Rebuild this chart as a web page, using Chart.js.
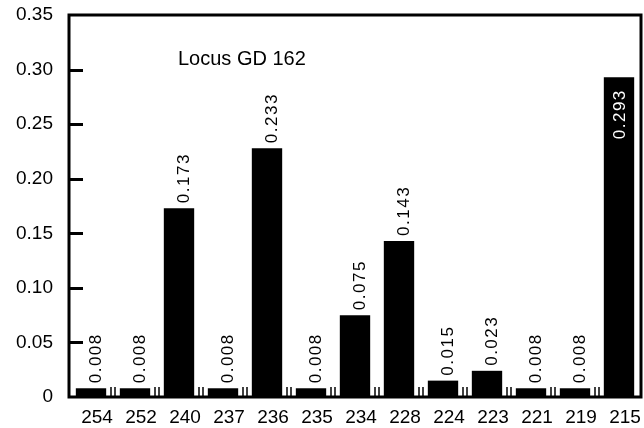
<!DOCTYPE html>
<html>
<head>
<meta charset="utf-8">
<script src="https://cdn.jsdelivr.net/npm/chart.js@4.4.0/dist/chart.umd.min.js"></script>
<style>
  html, body { margin: 0; padding: 0; background: #fff; }
  canvas { display: block; }
</style>
</head>
<body>
<canvas id="chart" width="644" height="428"></canvas>
<script>
// allele sizes (x categories) and their frequencies
const alleles = ['254', '252', '240', '237', '236', '235', '234', '228', '224', '223', '221', '219', '215'];
const freqs = [0.008, 0.008, 0.173, 0.008, 0.228, 0.008, 0.075, 0.143, 0.015, 0.024, 0.008, 0.008, 0.293];
const freqLabels = ['0.008', '0.008', '0.173', '0.008', '0.233', '0.008', '0.075', '0.143', '0.015', '0.023', '0.008', '0.008', '0.293'];
const yMin = 0;
const yMax = 0.35;
const yStep = 0.05;
const chartTitle = 'Locus GD 162';

const FONT = "'Liberation Sans', Arial, Helvetica, sans-serif";

// frame, inward ticks, rotated value labels and the inner title
const decorations = {
    id: 'decorations',
    afterDraw(chart) {
        const ctx = chart.ctx;
        const area = chart.chartArea;
        const x = chart.scales.x;
        const y = chart.scales.y;
        ctx.save();
        ctx.strokeStyle = '#000';

        // y ticks pointing into the plot
        ctx.lineWidth = 3;
        y.ticks.forEach(t => {
            if (t.value <= yMin || t.value >= yMax) return;
            const py = Math.round(y.getPixelForValue(t.value)) + 0.5;
            ctx.beginPath();
            ctx.moveTo(area.left, py);
            ctx.lineTo(area.left + 14, py);
            ctx.stroke();
        });

        // small double ticks between categories
        ctx.lineWidth = 1.5;
        for (let i = 0; i < alleles.length - 1; i++) {
            const bx = (x.getPixelForValue(i) + x.getPixelForValue(i + 1)) / 2;
            [-2, 2].forEach(d => {
                ctx.beginPath();
                ctx.moveTo(bx + d, area.bottom);
                ctx.lineTo(bx + d, area.bottom - 10);
                ctx.stroke();
            });
        }

        // frame
        ctx.lineWidth = 3;
        ctx.strokeRect(area.left, area.top, area.right - area.left, area.bottom - area.top);

        // value labels
        const meta = chart.getDatasetMeta(0);
        ctx.font = '17px ' + FONT;
        ctx.letterSpacing = '1.5px';
        const cap = 12;
        meta.data.forEach((bar, i) => {
            const text = freqLabels[i];
            const len = ctx.measureText(text).width;
            const inside = bar.y - area.top < len + 20;
            ctx.save();
            if (inside) {
                ctx.fillStyle = '#fff';
                ctx.translate(bar.x, bar.y + 12);
                ctx.rotate(-Math.PI / 2);
                ctx.textAlign = 'right';
                ctx.textBaseline = 'alphabetic';
                ctx.fillText(text, 0, cap / 2);
            } else {
                ctx.fillStyle = '#000';
                ctx.translate(bar.x + 4, bar.y - 5);
                ctx.rotate(-Math.PI / 2);
                ctx.textAlign = 'left';
                ctx.textBaseline = 'alphabetic';
                ctx.fillText(text, 0, cap / 2);
            }
            ctx.restore();
        });
        ctx.letterSpacing = '0px';

        // title inside the plot
        ctx.fillStyle = '#000';
        ctx.font = '20px ' + FONT;
        ctx.textAlign = 'left';
        ctx.textBaseline = 'alphabetic';
        ctx.fillText(chartTitle, area.left + 109, area.top + 50);
        ctx.restore();
    }
};

const ctx = document.getElementById('chart').getContext('2d');
const chart = new Chart(ctx, {
    type: 'bar',
    data: {
        labels: alleles,
        datasets: [{
            data: freqs,
            backgroundColor: '#000',
            borderWidth: 0,
            barPercentage: 0.69,
            categoryPercentage: 1.0
        }]
    },
    options: {
        responsive: false,
        animation: false,
        devicePixelRatio: 1,
        layout: { padding: { top: 15, right: 3, left: 0, bottom: 0 } },
        plugins: {
            legend: { display: false },
            tooltip: { enabled: false }
        },
        scales: {
            x: {
                offset: true,
                grid: { display: false, drawTicks: false },
                border: { display: false },
                ticks: {
                    color: '#000',
                    font: { family: FONT, size: 19 },
                    padding: 9,
                    labelOffset: 6,
                    maxRotation: 0,
                    autoSkip: false
                },
                afterFit: s => {
                    s.height = 31;
                    s.paddingLeft = 0;
                    s.paddingRight = 0;
                }
            },
            y: {
                min: yMin,
                max: yMax,
                grid: { display: false, drawTicks: false },
                border: { display: false },
                ticks: {
                    stepSize: yStep,
                    color: '#000',
                    font: { family: FONT, size: 19 },
                    padding: 16,
                    callback: v => v === 0 ? '0' : v.toFixed(2)
                },
                afterFit: s => {
                    s.width = 69;
                    s.paddingTop = 0;
                    s.paddingBottom = 0;
                }
            }
        }
    },
    plugins: [decorations]
});
</script>
</body>
</html>
